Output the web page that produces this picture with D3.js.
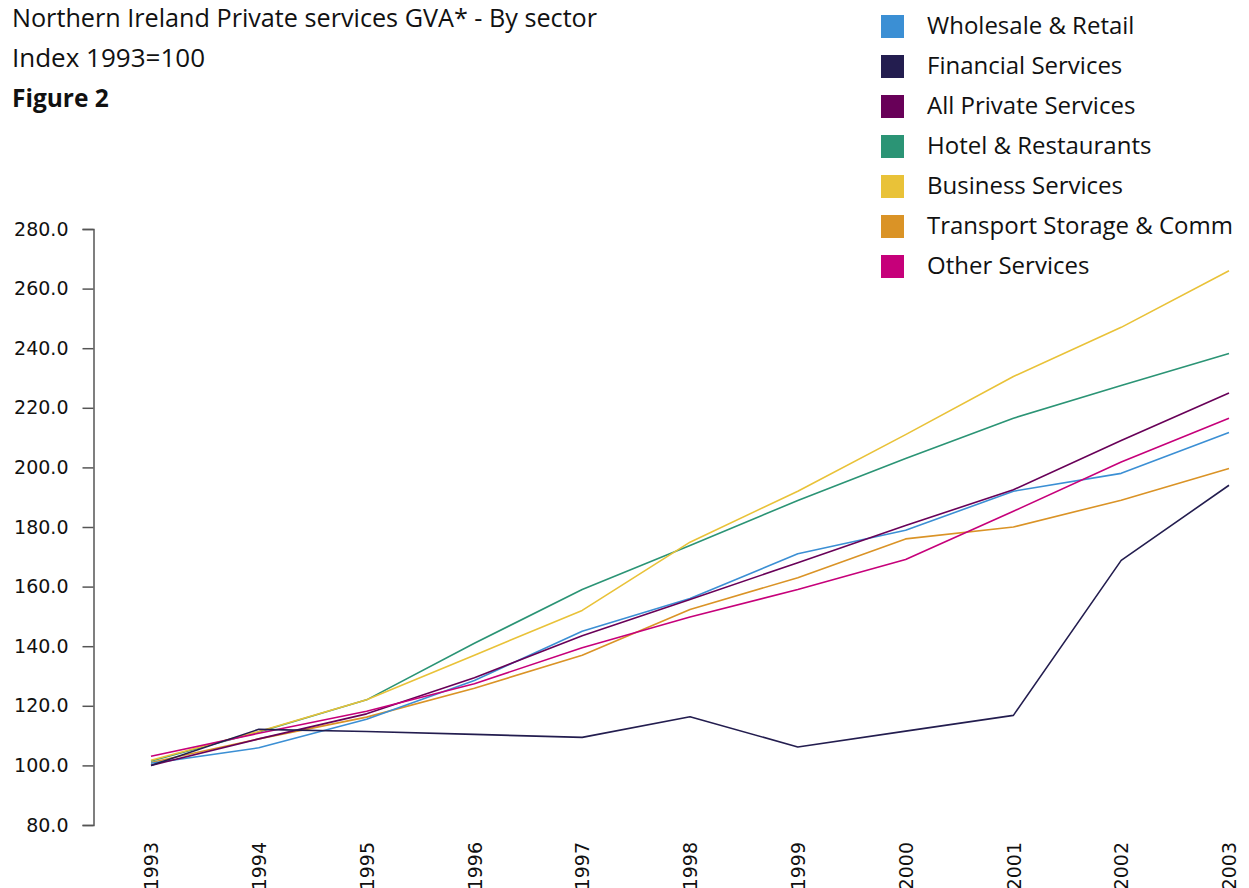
<!DOCTYPE html>
<html>
<head>
<meta charset="utf-8">
<script src="https://cdn.jsdelivr.net/npm/d3@7/dist/d3.min.js"></script>
<style>
  html, body { margin: 0; padding: 0; background: #fff; }
  svg { display: block; }
</style>
</head>
<body>
<svg id="chart" width="1249" height="888"></svg>
<script>
// Years on the x axis
const years = [1993, 1994, 1995, 1996, 1997, 1998, 1999, 2000, 2001, 2002, 2003];

// Index values (1993 = 100) per sector
const wholesaleRetail   = [100.7, 105.9, 115.5, 128.5, 145.0, 156.0, 171.0, 178.9, 192.0, 198.0, 211.7];
const financialServices = [100.0, 112.1, 111.4, 110.4, 109.4, 116.3, 106.2, 111.5, 116.8, 168.8, 194.0];
const allPrivateServices= [100.0, 108.9, 117.3, 129.4, 143.5, 155.7, 168.0, 180.5, 192.5, 209.0, 225.0];
const hotelRestaurants  = [101.5, 111.2, 122.0, 141.0, 159.0, 173.8, 188.9, 203.0, 216.5, 227.5, 238.2];
const businessServices  = [101.7, 111.4, 122.0, 137.0, 152.0, 174.9, 192.0, 211.0, 230.5, 247.0, 266.0];
const transportStorage  = [101.0, 108.9, 116.2, 125.9, 137.0, 152.3, 163.0, 176.0, 180.0, 189.0, 199.6];
const otherServices     = [103.1, 110.8, 118.2, 127.4, 139.5, 149.8, 159.0, 169.1, 185.3, 201.8, 216.5];

const seriesNames  = ["Wholesale & Retail", "Financial Services", "All Private Services",
                      "Hotel & Restaurants", "Business Services", "Transport Storage & Comm", "Other Services"];
const seriesValues = [wholesaleRetail, financialServices, allPrivateServices,
                      hotelRestaurants, businessServices, transportStorage, otherServices];
const seriesColors = ["#3b8fd4", "#231d4f", "#680058", "#2b9475", "#e9c238", "#da9326", "#c6007a"];

const yTicks = [80, 100, 120, 140, 160, 180, 200, 220, 240, 260, 280];

const svg = d3.select("#chart");

const x = d3.scalePoint().domain(years).range([151, 1229]);
const y = d3.scaleLinear().domain([80, 280]).range([825, 229]);

// Titles
const titleFont = "'Open Sans', 'Liberation Sans', sans-serif";
svg.append("text").attr("x", 12).attr("y", 27)
  .style("font-family", titleFont).style("font-size", "25.2px").attr("fill", "#111")
  .text("Northern Ireland Private services GVA* - By sector");
svg.append("text").attr("x", 12).attr("y", 67)
  .style("font-family", titleFont).style("font-size", "26px").attr("fill", "#111")
  .text("Index 1993=100");
svg.append("text").attr("x", 12).attr("y", 107)
  .style("font-family", titleFont).style("font-size", "24.5px").style("font-weight", "bold").attr("fill", "#111")
  .text("Figure 2");

// Y axis
const yAxis = d3.axisLeft(y).tickValues(yTicks).tickFormat(d3.format(".1f")).tickSize(11).tickPadding(14);
const gy = svg.append("g").attr("transform", "translate(93.5,0)").call(yAxis);
gy.select(".domain").attr("stroke", "#555").attr("stroke-width", 1.5);
gy.selectAll(".tick line").attr("stroke", "#555").attr("stroke-width", 1.5);
gy.selectAll(".tick text")
  .style("font-family", "'DejaVu Sans', sans-serif").style("font-size", "19px").attr("fill", "#111");

// X axis labels (rotated, no axis line)
const xAxis = d3.axisBottom(x).tickSize(0).tickPadding(0);
const gx = svg.append("g").attr("transform", "translate(0,842)").call(xAxis);
gx.select(".domain").remove();
gx.selectAll(".tick text")
  .attr("transform", "rotate(-90)")
  .attr("x", 0).attr("y", 0).attr("dy", "0.35em")
  .style("text-anchor", "end")
  .style("font-family", "'DejaVu Sans', sans-serif").style("font-size", "19px").attr("fill", "#111");

// Series lines
const line = d3.line().x((d, i) => x(years[i])).y(d => y(d));
const order = [5, 0, 2, 3, 4, 6, 1];
svg.append("g").selectAll("path").data(order).join("path")
  .attr("d", i => line(seriesValues[i]))
  .attr("fill", "none")
  .attr("stroke", i => seriesColors[i])
  .attr("stroke-width", 1.6)
  .attr("stroke-linejoin", "round");

// Legend
const legend = svg.append("g").attr("transform", "translate(881,15)");
const item = legend.selectAll("g").data(seriesNames).join("g")
  .attr("transform", (d, i) => `translate(0,${i * 40})`);
item.append("rect").attr("width", 23).attr("height", 23).attr("fill", (d, i) => seriesColors[i]);
item.append("text").attr("x", 46).attr("y", 18.5)
  .style("font-family", titleFont).style("font-size", "24px").attr("fill", "#111")
  .text(d => d);
</script>
</body>
</html>
